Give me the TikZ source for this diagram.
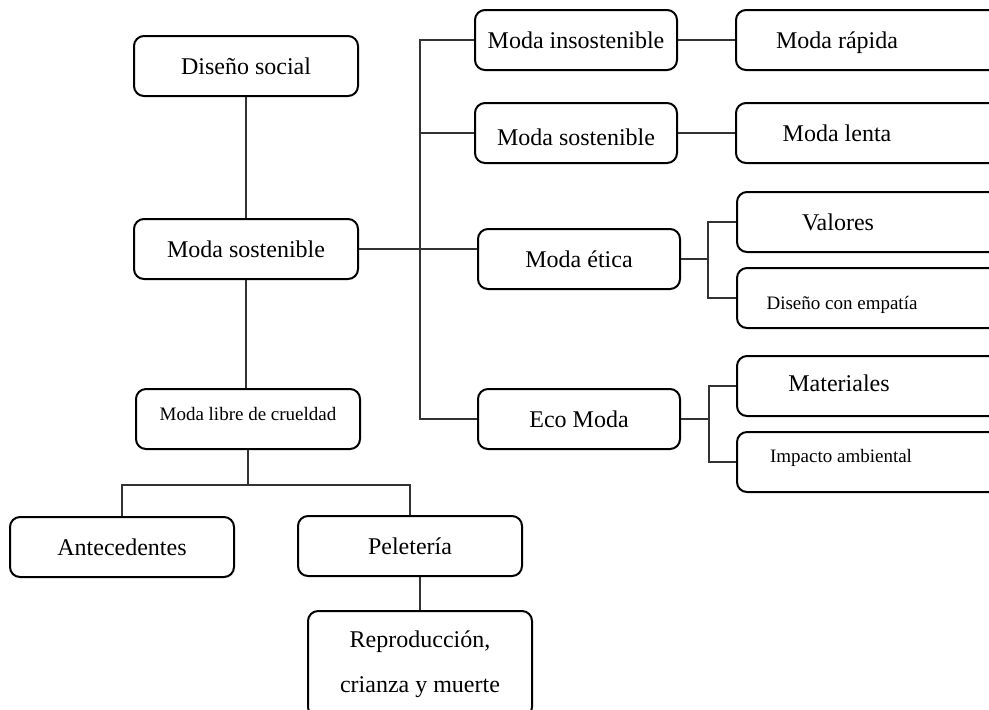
\documentclass[tikz,border=0pt]{standalone}
\usepackage{fontspec}
\setmainfont{Liberation Serif}
\tikzset{
  box/.style={draw, line width=1pt, rounded corners=5pt, minimum width=112pt, minimum height=30pt, inner sep=2pt},
  mbox/.style={box, minimum width=101pt},
  rbox/.style={box, minimum width=135pt, anchor=west},
  small/.style={font=\fontsize{9.5}{11}\selectfont},
  link/.style={line width=0.55pt, black!80},
}
\begin{document}
\begin{tikzpicture}[x=0.5pt, y=-0.5pt, font=\fontsize{12}{14}\selectfont]
  \useasboundingbox (0,0) rectangle (989,709);
  % left column
  \node[box] (dsocial) at (246,66) {Diseño social};
  \node[box] (msost) at (246,249) {Moda sostenible};
  \node[box, small, text depth=5pt] (mlibre) at (248,419) {Moda libre de crueldad};
  \node[box] (antec) at (122,547) {Antecedentes};
  \node[box] (pelet) at (410,546) {Peletería};
  \node[box, minimum height=53pt, align=center, font=\fontsize{12}{22.5}\selectfont] (repro) at (420,664) {Reproducción,\\crianza y muerte};
  % middle column
  \node[mbox] (insost) at (576,40) {Moda insostenible};
  \node[mbox, text height=13pt] (sost2) at (576,133) {Moda sostenible};
  \node[mbox] (etica) at (579,259) {Moda ética};
  \node[mbox] (eco) at (579,419) {Eco Moda};
  % right column
  \node[rbox, label={[anchor=center, xshift=51pt, yshift=-1.5pt]west:Moda rápida}] (rapida) at (735,40) {};
  \node[rbox, label={[anchor=center, xshift=51pt]west:Moda lenta}] (lenta) at (735,133) {};
  \node[rbox, label={[anchor=center, xshift=51pt]west:Valores}] (valores) at (736,222) {};
  \node[rbox, label={[anchor=center, xshift=53pt, yshift=-3.5pt, small]west:Diseño con empatía}] (empatia) at (736,298) {};
  \node[rbox, label={[anchor=center, xshift=51.5pt, yshift=1.5pt]west:Materiales}] (mater) at (736,386) {};
  \node[rbox, label={[anchor=center, xshift=52.5pt, yshift=2pt, small]west:Impacto ambiental}] (impacto) at (736,462) {};
  \coordinate (jlibre) at (248,485);
  \coordinate (trunk) at (420,250);
  \coordinate (jetica) at (708,259);
  \coordinate (jeco) at (709,419);
  \draw[link] (dsocial) -- (msost);
  \draw[link] (msost.south) -- (msost.south |- mlibre.north);
  \draw[link] (mlibre.south) -- (jlibre);
  \draw[link] (antec.north) |- (jlibre) -| (pelet.north);
  \draw[link] (pelet.south -| repro.north) -- (repro.north);
  \draw[link] (msost.east) -- (msost.east -| etica.west);
  \draw[link] (insost.west) -| (trunk) |- (eco.west);
  \draw[link] (sost2.west) -- (sost2.west -| trunk);
  \draw[link] (insost.east) -- (rapida.west);
  \draw[link] (sost2.east) -- (lenta.west);
  \draw[link] (etica.east) -- (jetica);
  \draw[link] (valores.west) -| (jetica) |- (empatia.west);
  \draw[link] (eco.east) -- (jeco);
  \draw[link] (mater.west) -| (jeco) |- (impacto.west);
\end{tikzpicture}
\end{document}
